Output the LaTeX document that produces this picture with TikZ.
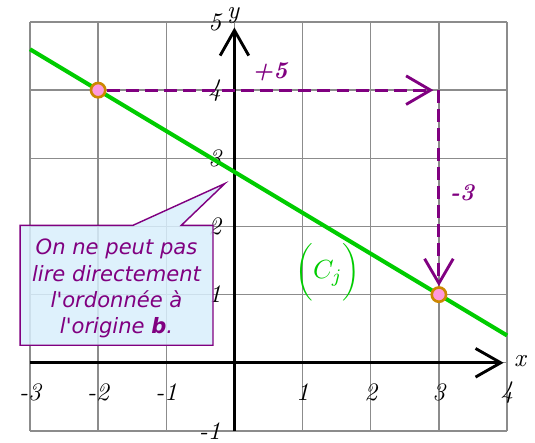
\documentclass[tikz,border=0pt]{standalone}
\usepackage{fontspec}
\newfontfamily\callfont{DejaVu Sans}
\usetikzlibrary{arrows.meta}
\definecolor{purp}{HTML}{800080}
\definecolor{grn}{HTML}{00CC00}
\definecolor{ptfill}{HTML}{FF99DD}
\definecolor{ptdraw}{HTML}{CC8800}
\definecolor{callfill}{HTML}{D8EEFC}
\tikzset{
  gridline/.style={draw=gray!90, line width=0.6pt},
  axisline/.style={draw=black, line width=1.2pt, -{Straight Barb[length=0.37cm, width=0.42cm, line width=1.2pt]}},
  curve/.style={draw=grn, line width=1.7pt},
  ptnode/.style={circle, fill=ptfill, draw=ptdraw, line width=1.1pt, minimum size=0.21cm, inner sep=0pt},
  dasharrow/.style={draw=purp, line width=1.2pt, dash pattern=on 5.4pt off 2.6pt, -{Straight Barb[length=0.36cm, width=0.42cm, line width=1.2pt]}},
  numlabel/.style={font=\fontsize{10.5}{12}\selectfont\itshape, inner sep=0pt},
  purplabel/.style={font=\fontsize{10}{12}\selectfont\bfseries\itshape, text=purp, inner sep=0pt},
  callbox/.style={draw=purp, line width=0.6pt, fill=callfill, fill opacity=0.85},
  calltext/.style={font=\fontsize{8.8}{10.9}\selectfont\callfont\itshape, text=purp, align=center, inner sep=0pt}
}
\begin{document}
\begin{tikzpicture}[x=1cm,y=1cm]
\useasboundingbox (-3.44,-1.176) rectangle (4.41,5.323);
% grid
\draw[gridline] (-3,-1) grid (4,5);
% axes
\coordinate (xs) at (-3,0);
\coordinate (xe) at (3.95,0);
\coordinate (ys) at (0,-1);
\coordinate (ye) at (0,4.92);
\draw[axisline] (xs) -- (xe);
\draw[axisline] (ys) -- (ye);
% axis labels
\node[numlabel] (lx) at (4.19,0.02) {x};
\node[numlabel] (ly) at (-0.02,5.1) {y};
\foreach \v in {-3,-2,-1,1,2,3,4}{
  \node[numlabel] (xl\v) at (\v,-0.43) {\v};
}
\foreach \v in {1,2,3,4,5}{
  \node[numlabel] (yl\v) at (-0.29,\v) {\v};
}
\node[numlabel] (ylm1) at (-0.36,-1.01) {-1};
% the line
\draw[curve] (-3,4.6) -- (4,0.4);
% label of the line
\node[text=grn, inner sep=0pt, font=\fontsize{11}{13}\selectfont] (cj) at (1.37,1.33) {$\biggl(C_j\biggr)$};
% points
\node[ptnode] (A) at (-2,4) {};
\node[ptnode] (B) at (3,1) {};
\coordinate (C) at (3,4);
\draw[dasharrow, shorten >=0.08cm] (A) -- (C);
\draw[dasharrow] (C) -- (B);
\node[purplabel] (p5) at (0.52,4.27) {+5};
\node[purplabel] (m3) at (3.34,2.49) {-3};
% callout
\draw[callbox] (-3.145,0.257) -- (-3.145,2.016) -- (-1.49,2.016) -- (-0.14,2.63) -- (-0.78,2.016) -- (-0.315,2.016) -- (-0.315,0.257) -- cycle;
\node[calltext] (note) at (-1.73,1.09) {On ne peut pas\\lire directement\\l'ordonnée à\\l'origine \textbf{b}.};
\end{tikzpicture}
\end{document}
